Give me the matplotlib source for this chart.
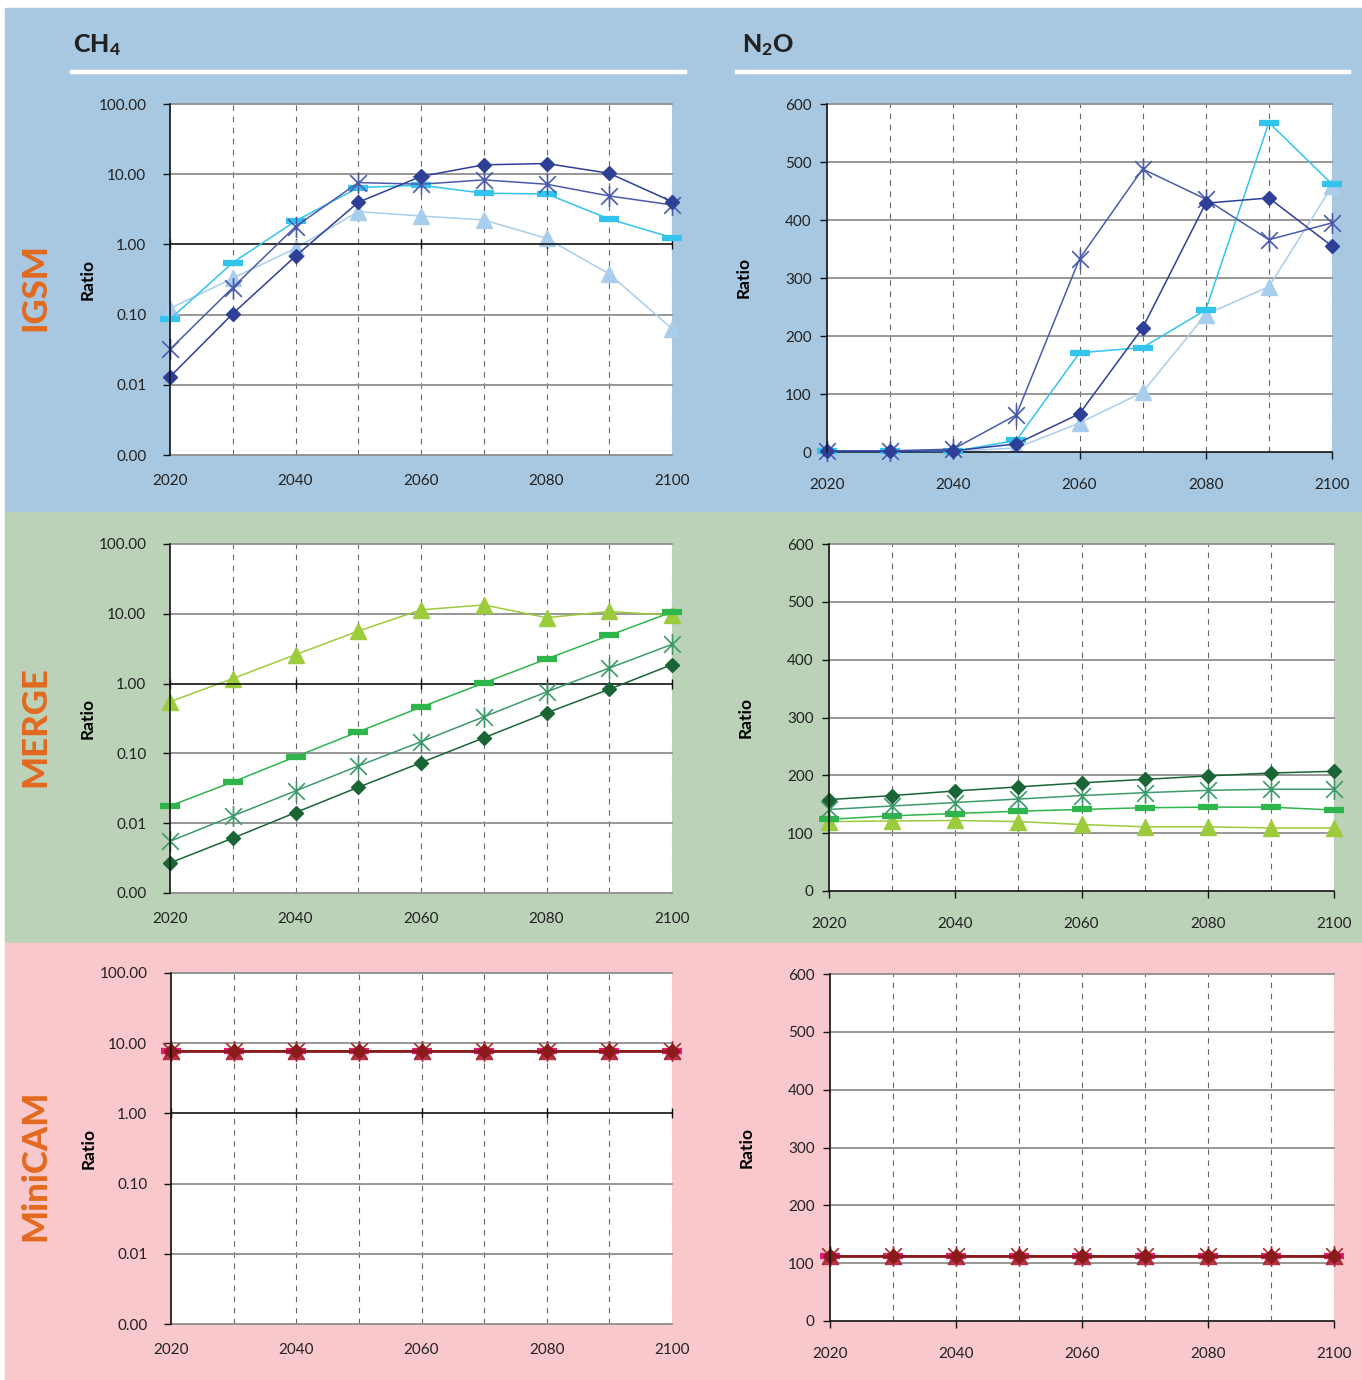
import matplotlib
matplotlib.use("Agg")
import matplotlib.pyplot as plt
from matplotlib.patches import Rectangle
from matplotlib.path import Path

plt.rcParams["font.family"] = ["Lato", "DejaVu Sans"]
plt.rcParams["mathtext.fontset"] = "custom"
plt.rcParams["mathtext.rm"] = "Lato"
plt.rcParams["mathtext.bf"] = "Lato:black"

W, H = 1362, 1380

years = [2020, 2030, 2040, 2050, 2060, 2070, 2080, 2090, 2100]

# IGSM
igsm_ch4_diamond = [0.013, 0.103, 0.68, 3.98, 9.3, 13.6, 14.2, 10.3, 4.07]
igsm_ch4_star = [0.032, 0.243, 1.79, 7.6, 7.2, 8.3, 7.2, 4.9, 3.65]
igsm_ch4_dash = [0.086, 0.55, 2.15, 6.45, 6.96, 5.35, 5.24, 2.3, 1.25]
igsm_ch4_tri = [0.122, 0.33, 0.88, 2.93, 2.54, 2.23, 1.22, 0.38, 0.063]

igsm_n2o_diamond = [1, 1, 2, 14, 66, 214, 429, 438, 355]
igsm_n2o_star = [2, 2, 5, 64, 333, 488, 436, 366, 395]
igsm_n2o_dash = [1, 1, 1, 20, 171, 180, 245, 568, 462]
igsm_n2o_tri = [0, 0, 1, 7, 50, 103, 237, 285, 458]

# MERGE
merge_ch4_diamond = [0.0027, 0.0061, 0.0142, 0.0327, 0.0736, 0.167, 0.38, 0.83, 1.87]
merge_ch4_star = [0.0055, 0.0127, 0.029, 0.066, 0.147, 0.334, 0.76, 1.67, 3.65]
merge_ch4_dash = [0.0177, 0.039, 0.0896, 0.204, 0.46, 1.02, 2.25, 4.9, 10.6]
merge_ch4_tri = [0.55, 1.18, 2.6, 5.65, 11.4, 13.4, 8.8, 10.8, 9.5]

merge_n2o_diamond = [158, 165, 173, 180, 187, 193, 199, 204, 207]
merge_n2o_star = [141, 147, 153, 159, 165, 170, 174, 176, 176]
merge_n2o_dash = [124, 130, 134, 138, 141, 144, 145, 145, 140]
merge_n2o_tri = [120, 121, 122, 120, 115, 111, 111, 109, 109]

# MiniCAM
minicam_ch4 = [7.8, 7.8, 7.8, 7.8, 7.8, 7.8, 7.8, 7.8, 7.8]
minicam_n2o = [113, 113, 113, 113, 113, 113, 113, 113, 113]

log_ticks = [0.001, 0.01, 0.1, 1, 10, 100]
log_labels = ["0.00", "0.01", "0.10", "1.00", "10.00", "100.00"]
lin_ticks = [0, 100, 200, 300, 400, 500, 600]

STAR = Path([(-1, -1), (1, 1), (-1, 1), (1, -1), (0, -1.25), (0, 1.25)],
            [Path.MOVETO, Path.LINETO, Path.MOVETO, Path.LINETO, Path.MOVETO, Path.LINETO])

BANDS = [("#a8c8e1", 8, 512), ("#bbd2b8", 512, 943), ("#f8c8cc", 943, 1380)]
MODEL_NAMES = [("IGSM", 287), ("MERGE", 727), ("MiniCAM", 1165)]


def rect(x0, y0, x1, y1):
    return [x0 / W, 1 - y1 / H, (x1 - x0) / W, (y1 - y0) / H]


def draw_series(ax, vals, kind, color, lw=1.1):
    if kind == "diamond":
        ax.plot(years, vals, color=color, lw=lw, marker="D", ms=7, mfc=color, mec=color, clip_on=False, zorder=5)
    elif kind == "star":
        ax.plot(years, vals, color=color, lw=lw, marker=STAR, ms=15, mfc="none", mec=color, mew=1.2,
                clip_on=False, zorder=4)
    elif kind == "dash":
        ax.plot(years, vals, color=color, lw=lw, marker="_", ms=15, mec=color, mew=4.5, clip_on=False, zorder=3)
    else:
        ax.plot(years, vals, color=color, lw=lw, marker="^", ms=11, mfc=color, mec=color, clip_on=False, zorder=2)


def base_axes(ax, ypad):
    ax.set_facecolor("white")
    ax.set_xlim(2020, 2100)
    for s in ["top", "right"]:
        ax.spines[s].set_visible(False)
    ax.spines["left"].set_color("#111111")
    ax.spines["left"].set_linewidth(1.2)
    ax.spines["left"].set_zorder(6)
    for yr in years[1:]:
        ax.axvline(yr, color="#666666", lw=0.8, ls=(0, (5, 5)), zorder=1)
    ax.tick_params(axis="y", direction="out", length=5, width=1, color="#111111",
                   labelsize=11, pad=ypad, labelcolor="#222222")
    ax.set_ylabel("Ratio", fontsize=12.5, fontweight="bold")
    ax.yaxis.set_label_coords(-0.149, 0.5)


def log_axes(ax):
    base_axes(ax, 12)
    ax.set_yscale("log")
    ax.set_ylim(0.001, 100)
    ax.set_yticks(log_ticks)
    ax.set_yticklabels(log_labels)
    ax.minorticks_off()
    for t in log_ticks:
        if t == 1:
            continue
        ax.axhline(t, color="#8f8f8f", lw=1.3, zorder=1, clip_on=False)
    # category axis crosses at 1.00
    ax.spines["bottom"].set_position(("data", 1.0))
    ax.spines["bottom"].set_color("#111111")
    ax.spines["bottom"].set_linewidth(1.2)
    ax.set_xticks(range(2020, 2101, 20))
    ax.tick_params(axis="x", direction="inout", length=7, width=1, color="#111111",
                   labelbottom=False)
    sec = ax.secondary_xaxis(0.0)
    sec.set_xticks(range(2020, 2101, 20))
    sec.spines["bottom"].set_visible(False)
    sec.tick_params(axis="x", length=0, pad=14, labelsize=11, labelcolor="#222222")


def lin_axes(ax):
    base_axes(ax, 6)
    ax.set_ylim(0, 600)
    ax.set_yticks(lin_ticks)
    for t in lin_ticks[1:]:
        ax.axhline(t, color="#8f8f8f", lw=1.3, zorder=1, clip_on=False)
    ax.spines["bottom"].set_color("#111111")
    ax.spines["bottom"].set_linewidth(1.2)
    ax.set_xticks(range(2020, 2101, 20))
    ax.tick_params(axis="x", direction="out", length=5, width=1, color="#111111",
                   pad=14, labelsize=11, labelcolor="#222222")


fig = plt.figure(figsize=(W / 100, H / 100), dpi=100)
fig.patch.set_facecolor("white")
for color, y0, y1 in BANDS:
    fig.patches.append(Rectangle((5 / W, 1 - y1 / H), 1 - 5 / W, (y1 - y0) / H,
                                 transform=fig.transFigure, color=color, zorder=-5))

for name, yc in MODEL_NAMES:
    fig.text(35 / W, 1 - yc / H, name, rotation=90, ha="center", va="center",
             fontsize=25, fontweight="black", color="#e2691f")

# gas titles with white rules
fig.text(73 / W, 1 - 45 / H, r"$\mathbf{CH_4}$", fontsize=18, color="#222222", va="center")
fig.text(742 / W, 1 - 45 / H, r"$\mathbf{N_2O}$", fontsize=18, color="#222222", va="center")
fig.add_artist(plt.Line2D([72 / W, 685 / W], [1 - 72 / H, 1 - 72 / H], color="white", lw=3.2))
fig.add_artist(plt.Line2D([737 / W, 1349 / W], [1 - 72 / H, 1 - 72 / H], color="white", lw=3.2))

igsm_cols = {"diamond": "#2e3f98", "star": "#4b5bab", "dash": "#33c4ee", "tri": "#a9cdec"}
merge_cols = {"diamond": "#1a6535", "star": "#3c9a6a", "dash": "#2eb54c", "tri": "#9ccb3b"}
minicam_cols = {"diamond": "#8b1a1a", "star": "#a0302a", "dash": "#e8197a", "tri": "#c03050"}

# IGSM
ax = fig.add_axes(rect(170, 104, 672, 455))
log_axes(ax)
draw_series(ax, igsm_ch4_tri, "tri", igsm_cols["tri"])
draw_series(ax, igsm_ch4_dash, "dash", igsm_cols["dash"])
draw_series(ax, igsm_ch4_star, "star", igsm_cols["star"])
draw_series(ax, igsm_ch4_diamond, "diamond", igsm_cols["diamond"])

ax = fig.add_axes(rect(827, 104, 1332, 452))
lin_axes(ax)
draw_series(ax, igsm_n2o_tri, "tri", igsm_cols["tri"])
draw_series(ax, igsm_n2o_dash, "dash", igsm_cols["dash"])
draw_series(ax, igsm_n2o_star, "star", igsm_cols["star"])
draw_series(ax, igsm_n2o_diamond, "diamond", igsm_cols["diamond"])

# MERGE
ax = fig.add_axes(rect(170, 544, 672, 893))
log_axes(ax)
draw_series(ax, merge_ch4_tri, "tri", merge_cols["tri"])
draw_series(ax, merge_ch4_dash, "dash", merge_cols["dash"])
draw_series(ax, merge_ch4_star, "star", merge_cols["star"])
draw_series(ax, merge_ch4_diamond, "diamond", merge_cols["diamond"])

ax = fig.add_axes(rect(829, 544, 1334, 891))
lin_axes(ax)
draw_series(ax, merge_n2o_tri, "tri", merge_cols["tri"])
draw_series(ax, merge_n2o_dash, "dash", merge_cols["dash"])
draw_series(ax, merge_n2o_star, "star", merge_cols["star"])
draw_series(ax, merge_n2o_diamond, "diamond", merge_cols["diamond"])

# MiniCAM: all four series coincide
ax = fig.add_axes(rect(171, 973, 672, 1324))
log_axes(ax)
draw_series(ax, minicam_ch4, "tri", minicam_cols["tri"])
draw_series(ax, minicam_ch4, "dash", minicam_cols["dash"])
draw_series(ax, minicam_ch4, "star", minicam_cols["star"])
draw_series(ax, minicam_ch4, "diamond", minicam_cols["diamond"], lw=2)

ax = fig.add_axes(rect(830, 974, 1334, 1321))
lin_axes(ax)
draw_series(ax, minicam_n2o, "tri", minicam_cols["tri"])
draw_series(ax, minicam_n2o, "dash", minicam_cols["dash"])
draw_series(ax, minicam_n2o, "star", minicam_cols["star"])
draw_series(ax, minicam_n2o, "diamond", minicam_cols["diamond"], lw=2)

fig.savefig("out.png", dpi=100)
